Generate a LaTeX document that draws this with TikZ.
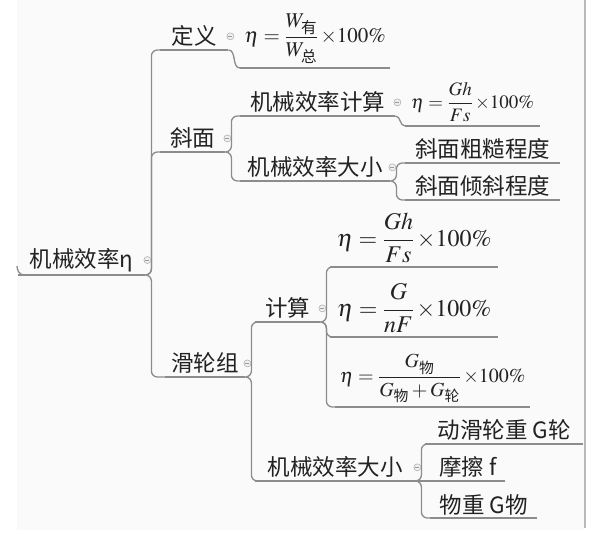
\documentclass[tikz,border=0pt]{standalone}
\usepackage{amsmath}
\usepackage{mathptmx}
\usepackage[no-math]{fontspec}
\setmainfont{Liberation Serif}
\newfontfamily\cjk{Noto Sans CJK SC}
\usetikzlibrary{calc}

\definecolor{linegray}{HTML}{8C8C8C}
\definecolor{inkgray}{HTML}{222222}
\newcommand{\pct}{\,{\times}100\%}
\tikzset{
  line/.style={draw=linegray, line width=1.3pt, rounded corners=6pt},
  topic/.style={anchor=south west, inner xsep=0pt, inner ysep=3pt, text=inkgray,
    font=\cjk\fontsize{22.5}{26}\selectfont},
  formula/.style={anchor=south west, inner xsep=0pt, inner ysep=4pt, text=inkgray},
  fold/.style={circle, draw=gray!60, fill=gray!12, line width=0.6pt, inner sep=0pt,
    minimum size=7pt, path picture={\draw[gray!80, line width=0.6pt]
      ([xshift=-2pt]path picture bounding box.center) --
      ([xshift=2pt]path picture bounding box.center);}},
  elbow/.style={to path={-- ++(6,0) |- (\tikztotarget)}}
}

\begin{document}
\begin{tikzpicture}[x=1pt, y=-1pt]
		\useasboundingbox (0,0) rectangle (600,544);
		% paper
		\fill[black!2] (17,0) rectangle (584,530);
		\draw[gray!55, line width=1.2pt] (585,0) -- (585,528);
		% topics
		\node[topic, minimum width=127pt] (root) at (18,275) {机械效率η};
		\node[topic, minimum width=68pt] (dingyi) at (160,50) {定义};
		\node[formula, minimum width=150pt, font=\fontsize{21}{24}\selectfont] (defn) at (240,68)
		{$\eta=\dfrac{W_{\text{\cjk 有}}}{W_{\text{\cjk 总}}}\pct$};
		\node[topic, minimum width=65pt] (xiemian) at (160,152) {斜面};
		\node[topic, minimum width=155pt] (xmcalc) at (240,116) {机械效率计算};
		\node[formula, minimum width=135pt, font=\fontsize{19}{22}\selectfont] (calcf) at (405,126)
		{$\eta=\dfrac{Gh}{Fs}\pct$};
		\node[topic, minimum width=150pt] (xmsize) at (240,181) {机械效率大小};
		\node[topic, minimum width=155pt] (rough) at (405,163) {斜面粗糙程度};
		\node[topic, minimum width=155pt] (slope) at (405,200) {斜面倾斜程度};
		\node[topic, minimum width=80pt] (pulley) at (165,377) {滑轮组};
		\node[topic, minimum width=65pt] (pcalc) at (255,322) {计算};
		\node[formula, minimum width=168pt, font=\fontsize{24}{27}\selectfont] (fa) at (330,267)
		{$\eta=\dfrac{Gh}{Fs}\pct$};
		\node[formula, minimum width=168pt, font=\fontsize{24}{27}\selectfont] (fb) at (330,337)
		{$\eta=\dfrac{G}{nF}\pct$};
		\node[formula, minimum width=195pt, font=\fontsize{20}{23}\selectfont] (fc) at (335,407)
		{$\eta=\dfrac{G_{\text{\cjk 物}}}{G_{\text{\cjk 物}}+G_{\text{\cjk 轮}}}\pct$};
		\node[topic, minimum width=160pt] (psize) at (255,481) {机械效率大小};
		\node[topic, minimum width=158pt] (wheel) at (425,444) {动滑轮重 G轮};
		\node[topic, minimum width=75pt] (fric) at (430,481) {摩擦 f};
		\node[topic, minimum width=107pt] (wgt) at (430,518) {物重 G物};
		% underlines
		\foreach \n in {root,dingyi,defn,xiemian,xmcalc,calcf,xmsize,rough,slope,
		  pulley,pcalc,fa,fb,fc,psize,wheel,fric,wgt}
		  \draw[line] (\n.south west) -- (\n.south east);
		\draw[line] ([xshift=-1pt, yshift=9pt]root.south west) to[out=-90, in=180] ([xshift=6pt]root.south west);
		% branches
		\draw[line] (root.south east) to[elbow] (dingyi.south west);
		\draw[line] (root.south east) to[elbow] (xiemian.south west);
		\draw[line] (root.south east) to[elbow] (pulley.south west);
		\draw[line] (dingyi.south east) to[out=0, in=180] (defn.south west);
		\draw[line] (xiemian.south east) to[elbow] (xmcalc.south west);
		\draw[line] (xiemian.south east) to[elbow] (xmsize.south west);
		\draw[line] (xmcalc.south east) to[out=0, in=180] (calcf.south west);
		\draw[line] (xmsize.south east) to[elbow] (rough.south west);
		\draw[line] (xmsize.south east) to[elbow] (slope.south west);
		\draw[line] (pulley.south east) to[elbow] (pcalc.south west);
		\draw[line] (pulley.south east) to[elbow] (psize.south west);
		\draw[line] (pcalc.south east) to[elbow] (fa.south west);
		\draw[line] (pcalc.south east) to[elbow] (fb.south west);
		\draw[line] (pcalc.south east) to[elbow] (fc.south west);
		\draw[line] (psize.south east) to[elbow] (wheel.south west);
		\draw[line] (psize.south east) -- (fric.south west);
		\draw[line] (psize.south east) to[elbow] (wgt.south west);
		% fold marks
		\foreach \n in {root,dingyi,xiemian,xmcalc,xmsize,pulley,pcalc,psize}
		  \node[fold] at ([xshift=2pt]\n.east) {};
	\end{tikzpicture}
\end{document}
